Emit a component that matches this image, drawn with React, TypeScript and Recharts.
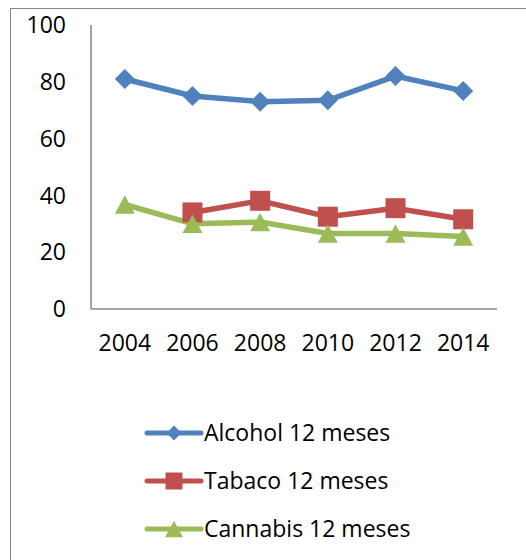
import React from "react";
import { LineChart, Line, XAxis, YAxis, Legend } from "recharts";

// Survey years on the horizontal axis
const years = ["2004", "2006", "2008", "2010", "2012", "2014"];

// Prevalence (%) of use in the last 12 months
const alcohol = [81, 75, 73, 73.5, 82, 76.8];
const tabaco: (number | null)[] = [null, 34, 38.1, 32.5, 35.5, 31.6];
const cannabis = [36.8, 30, 30.6, 26.6, 26.6, 25.5];

const yTicks = [0, 20, 40, 60, 80, 100];

const seriesNames = {
  alcohol: "Alcohol 12 meses",
  tabaco: "Tabaco 12 meses",
  cannabis: "Cannabis 12 meses",
};

const BLUE = "#4F81BD";
const RED = "#C0504D";
const GREEN = "#9BBB59";
const AXIS = "#868686";
const FONT = "'Open Sans', sans-serif";
const FONT_SIZE = 23;

const data = years.map((year, i) => ({
  year,
  alcohol: alcohol[i],
  tabaco: tabaco[i],
  cannabis: cannabis[i],
}));

type Shape = "diamond" | "square" | "triangle";

function marker(shape: Shape, cx: number, cy: number, r: number, color: string, key?: string) {
  if (shape === "diamond") {
    return (
      <path
        key={key}
        d={`M${cx},${cy - r}L${cx + r},${cy}L${cx},${cy + r}L${cx - r},${cy}Z`}
        fill={color}
      />
    );
  }
  if (shape === "square") {
    return <rect key={key} x={cx - r} y={cy - r} width={2 * r} height={2 * r} fill={color} />;
  }
  const h = r * 0.92;
  return (
    <path
      key={key}
      d={`M${cx},${cy - h}L${cx + r},${cy + h}L${cx - r},${cy + h}Z`}
      fill={color}
    />
  );
}

const makeDot = (shape: Shape, r: number, color: string) => (props: any) => {
  const { cx, cy, index } = props;
  const key = `${shape}-${index}`;
  if (cx == null || cy == null || Number.isNaN(cy)) return <g key={key} />;
  return marker(shape, cx, cy, r, color, key);
};

const legendItems: { name: string; color: string; shape: Shape; r: number }[] = [
  { name: seriesNames.alcohol, color: BLUE, shape: "diamond", r: 7.5 },
  { name: seriesNames.tabaco, color: RED, shape: "square", r: 8.5 },
  { name: seriesNames.cannabis, color: GREEN, shape: "triangle", r: 9 },
];

const LegendContent = () => (
  <svg width={526} height={150} style={{ display: "block" }}>
    {legendItems.map((item, i) => {
      const cy = 23 + i * 48;
      return (
        <g key={item.name}>
          <line x1={147} x2={201} y1={cy} y2={cy} stroke={item.color} strokeWidth={5} strokeLinecap="round" />
          {marker(item.shape, 174, cy, item.r, item.color)}
          <text x={204} y={cy} dy="0.36em" fontFamily={FONT} fontSize={FONT_SIZE} fill="#000">
            {item.name}
          </text>
        </g>
      );
    })}
  </svg>
);

export default function App() {
  return (
    <div
      style={{
        position: "absolute",
        left: 0,
        top: 0,
        width: 526,
        height: 560,
        overflow: "hidden",
        background: "#fff",
      }}
    >
      <div
        style={{
          position: "absolute",
          left: 10,
          top: 8,
          width: 700,
          height: 700,
          border: `1px solid ${AXIS}`,
        }}
      />
      <div style={{ position: "absolute", left: 0, top: 0 }}>
        <LineChart
          width={526}
          height={560}
          data={data}
          margin={{ top: 25, right: 29, bottom: 221, left: 0 }}
        >
          <XAxis
            dataKey="year"
            axisLine={{ stroke: AXIS, strokeWidth: 1.5 }}
            tickLine={false}
            tickSize={0}
            tickMargin={26}
            height={30}
            padding={{ left: 33.8, right: 33.8 }}
            tick={{ fill: "#000", fontFamily: FONT, fontSize: FONT_SIZE }}
            interval={0}
          />
          <YAxis
            domain={[0, 100]}
            ticks={yTicks}
            width={91}
            axisLine={{ stroke: AXIS, strokeWidth: 1.5 }}
            tickLine={false}
            tickSize={0}
            tickMargin={25}
            tick={{ fill: "#000", fontFamily: FONT, fontSize: FONT_SIZE }}
            interval={0}
          />
          <Legend
            layout="vertical"
            align="center"
            verticalAlign="middle"
            content={<LegendContent />}
            wrapperStyle={{ position: "absolute", top: 410, left: 0, width: 526 }}
          />
          <Line
            type="linear"
            dataKey="alcohol"
            name={seriesNames.alcohol}
            stroke={BLUE}
            strokeWidth={5.5}
            dot={makeDot("diamond", 10, BLUE)}
            activeDot={false}
            isAnimationActive={false}
          />
          <Line
            type="linear"
            dataKey="tabaco"
            name={seriesNames.tabaco}
            stroke={RED}
            strokeWidth={5.5}
            dot={makeDot("square", 10, RED)}
            activeDot={false}
            isAnimationActive={false}
          />
          <Line
            type="linear"
            dataKey="cannabis"
            name={seriesNames.cannabis}
            stroke={GREEN}
            strokeWidth={5.5}
            dot={makeDot("triangle", 10, GREEN)}
            activeDot={false}
            isAnimationActive={false}
          />
        </LineChart>
      </div>
    </div>
  );
}
